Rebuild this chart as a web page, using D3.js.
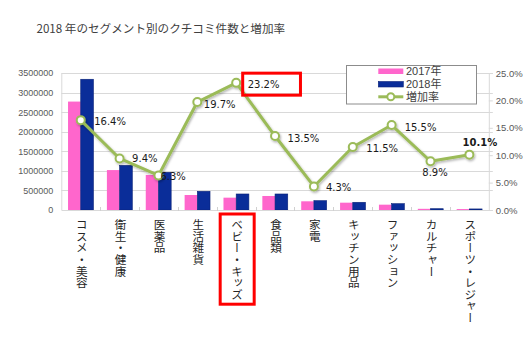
<!DOCTYPE html>
<html>
<head>
<meta charset="utf-8">
<script src="https://cdn.jsdelivr.net/npm/d3@7"></script>
<style>
  html, body { margin: 0; padding: 0; background: #fff; }
  svg { display: block; }
</style>
</head>
<body>
<svg id="chart" width="529" height="343"></svg>
<script>
// セグメント別クチコミ件数（2017年・2018年）と増加率
const categories = ["コスメ・美容", "衛生・健康", "医薬品", "生活雑貨", "ベビー・キッズ", "食品類", "家電", "キッチン用品", "ファッション", "カルチャー", "スポーツ・レジャー"];
const counts2017 = [2770000, 1020000, 895000, 383000, 315000, 358000, 222000, 187000, 136000, 30000, 24000];
const counts2018 = [3340000, 1140000, 963000, 478000, 409000, 409000, 238000, 197000, 161000, 33000, 27000];
const growthRate = [16.4, 9.4, 6.3, 19.7, 23.2, 13.5, 4.3, 11.5, 15.5, 8.9, 10.1];
const seriesNames = ["2017年", "2018年", "増加率"];
const leftTicks = [0, 500000, 1000000, 1500000, 2000000, 2500000, 3000000, 3500000];
const rightTicks = [0, 5, 10, 15, 20, 25];
const titleText = "2018 年のセグメント別のクチコミ件数と増加率";
const highlighted = "ベビー・キッズ";

const svg = d3.select("#chart");
const plot = { left: 61.3, right: 488.8, top: 73, bottom: 210 };
const colors = { y2017: "#FF66CC", y2018: "#0A2D99", line: "#9BBB59" };

const x = d3.scaleBand().domain(categories).range([plot.left, plot.right]).padding(0);
const xs = d3.scaleBand().domain(["2017", "2018"]).range([0, x.bandwidth()])
  .paddingInner(0).paddingOuter(0.53);
const yL = d3.scaleLinear().domain([0, 3500000]).range([plot.bottom, plot.top]);
const yR = d3.scaleLinear().domain([0, 25]).range([plot.bottom, plot.top]);

// title
svg.append("text")
  .attr("x", 36.5).attr("y", 32.5)
  .attr("font-family", "'Noto Sans CJK JP', sans-serif")
  .attr("font-size", 11.6).attr("fill", "#404040")
  .text(titleText);

// horizontal gridlines
svg.append("g").selectAll("line").data(leftTicks.slice(1)).join("line")
  .attr("x1", plot.left).attr("x2", plot.right + 4)
  .attr("y1", d => Math.round(yL(d)) + 0.5).attr("y2", d => Math.round(yL(d)) + 0.5)
  .attr("stroke", "#D9D9D9").attr("stroke-width", 1);

// left axis
const leftAxis = d3.axisLeft(yL).tickValues(leftTicks).tickSize(0).tickPadding(8).tickFormat(d3.format("d"));
const gL = svg.append("g").attr("transform", `translate(${plot.left},0)`).call(leftAxis);
gL.select(".domain").attr("stroke", "#D9D9D9");
gL.selectAll("text").attr("font-family", "'Liberation Sans', Arial, sans-serif")
  .attr("font-size", 9).attr("fill", "#595959");

// right axis
const rightAxis = d3.axisRight(yR).tickValues(rightTicks).tickSize(4).tickPadding(3)
  .tickFormat(d => d.toFixed(1) + "%");
const gR = svg.append("g").attr("transform", `translate(${plot.right},0)`).call(rightAxis);
gR.select(".domain").attr("stroke", "#D9D9D9");
gR.selectAll(".tick line").attr("stroke", "#D9D9D9");
gR.selectAll("text").attr("font-family", "'Liberation Sans', Arial, sans-serif")
  .attr("font-size", 9.5).attr("fill", "#595959");

// bars
const groups = svg.append("g").selectAll("g").data(categories).join("g")
  .attr("transform", d => `translate(${x(d)},0)`);
groups.append("rect")
  .attr("x", xs("2017")).attr("width", xs.bandwidth())
  .attr("y", (d, i) => yL(counts2017[i])).attr("height", (d, i) => plot.bottom - yL(counts2017[i]))
  .attr("fill", colors.y2017);
groups.append("rect")
  .attr("x", xs("2018")).attr("width", xs.bandwidth())
  .attr("y", (d, i) => yL(counts2018[i])).attr("height", (d, i) => plot.bottom - yL(counts2018[i]))
  .attr("fill", colors.y2018).attr("stroke", "#0A2278").attr("stroke-width", 0.6);

// bottom axis with category separators
const bottomAxis = d3.axisBottom(x).tickSize(0).tickFormat("");
const gB = svg.append("g").attr("transform", `translate(0,${plot.bottom})`).call(bottomAxis);
gB.select(".domain").attr("stroke", "#D9D9D9");
svg.append("g").selectAll("line").data(categories.slice(1)).join("line")
  .attr("x1", d => Math.round(x(d)) + 0.5).attr("x2", d => Math.round(x(d)) + 0.5)
  .attr("y1", plot.bottom - 3).attr("y2", plot.bottom + 1)
  .attr("stroke", "#D0D0D0");

// vertical category labels
const catLabels = svg.append("g").selectAll("text").data(categories).join("text")
  .attr("x", d => x(d) + x.bandwidth() / 2 + 1)
  .attr("y", 219)
  .attr("font-family", "'Noto Sans CJK JP', sans-serif")
  .attr("font-size", 11.6).attr("fill", "#262626")
  .style("writing-mode", "vertical-rl")
  .style("text-orientation", "upright")
  .text(d => d);

// growth-rate line
const cx = (d, i) => x(categories[i]) + x.bandwidth() / 2;
const lineGen = d3.line().x((d, i) => cx(d, i)).y(d => yR(d));
const defs = svg.append("defs");
const f = defs.append("filter").attr("id", "shadow").attr("x", "-10%").attr("y", "-10%").attr("width", "120%").attr("height", "130%");
f.append("feDropShadow").attr("dx", 1).attr("dy", 1.5).attr("stdDeviation", 1).attr("flood-color", "#000").attr("flood-opacity", 0.3);
const gLine = svg.append("g").attr("filter", "url(#shadow)");
gLine.append("path").datum(growthRate).attr("d", lineGen)
  .attr("fill", "none").attr("stroke", colors.line).attr("stroke-width", 3).attr("stroke-linejoin", "round");
gLine.selectAll("circle").data(growthRate).join("circle")
  .attr("cx", (d, i) => cx(d, i)).attr("cy", d => yR(d)).attr("r", 4)
  .attr("fill", "#fff").attr("stroke", colors.line).attr("stroke-width", 2);

// value labels (offset from each point, anchor)
const labelLayout = [
  [13.5, 1, "start"], [12.5, 0.5, "start"], [2, 1.5, "start"], [6.5, 2, "start"],
  [11.5, 1.8, "start"], [12.5, 2, "start"], [12, 1, "start"], [13.5, 1.2, "start"],
  [13, 2.5, "start"], [4.5, 11.5, "middle"], [10.5, -12, "middle"]
];
const valueLabels = svg.append("g").selectAll("text").data(growthRate).join("text")
  .attr("x", (d, i) => cx(d, i) + labelLayout[i][0])
  .attr("y", (d, i) => yR(d) + labelLayout[i][1])
  .attr("dy", "0.35em")
  .attr("text-anchor", (d, i) => labelLayout[i][2])
  .attr("font-family", "'DejaVu Sans', Verdana, sans-serif")
  .attr("font-size", 10).attr("fill", "#1a1a1a")
  .attr("font-weight", (d, i) => i === growthRate.length - 1 ? "bold" : "normal")
  .text(d => d.toFixed(1) + "%");

// red highlight boxes
const hi = categories.indexOf(highlighted);
function boxAround(node, padL, padR, padT, padB) {
  const b = node.getBBox();
  svg.append("rect")
    .attr("x", b.x - padL).attr("y", b.y - padT)
    .attr("width", b.width + padL + padR).attr("height", b.height + padT + padB)
    .attr("fill", "none").attr("stroke", "#FF0000").attr("stroke-width", 3);
}
boxAround(valueLabels.nodes()[hi], 5, 21, 6, 5);
boxAround(catLabels.nodes()[hi], 9, 9, 5, 4);

// legend
const lg = svg.append("g");
lg.append("rect").attr("x", 346.5).attr("y", 65.5).attr("width", 130).attr("height", 38.5)
  .attr("fill", "#fff").attr("stroke", "#8C8C8C").attr("stroke-width", 1);
const sw = { x: 378.3, w: 25 };
lg.append("rect").attr("x", sw.x).attr("y", 68.5).attr("width", sw.w).attr("height", 5.5).attr("fill", colors.y2017);
lg.append("rect").attr("x", sw.x).attr("y", 81.5).attr("width", sw.w).attr("height", 5.5)
  .attr("fill", colors.y2018).attr("stroke", "#0A2278").attr("stroke-width", 0.6);
lg.append("line").attr("x1", sw.x).attr("x2", sw.x + sw.w).attr("y1", 96.8).attr("y2", 96.8)
  .attr("stroke", colors.line).attr("stroke-width", 3);
lg.append("circle").attr("cx", sw.x + sw.w / 2).attr("cy", 96.8).attr("r", 3.5)
  .attr("fill", "#fff").attr("stroke", colors.line).attr("stroke-width", 2);
lg.selectAll("text.lt").data(seriesNames).join("text").attr("class", "lt")
  .attr("x", 406).attr("y", (d, i) => 71.5 + i * 12.8).attr("dy", "0.36em")
  .attr("font-family", "'Liberation Sans', 'Noto Sans CJK JP', sans-serif")
  .attr("font-size", 11).attr("fill", "#404040")
  .text(d => d);
</script>
</body>
</html>
